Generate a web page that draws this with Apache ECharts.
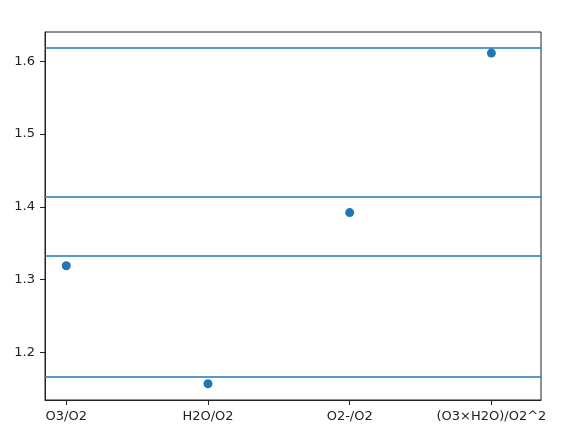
<!DOCTYPE html>
<html>
<head>
<meta charset="utf-8">
<script src="https://cdn.jsdelivr.net/npm/echarts@6/dist/echarts.min.js"></script>
<style>
  html, body { margin: 0; padding: 0; background: #fff; }
  #chart { width: 582px; height: 437px; }
</style>
</head>
<body>
<div id="chart"></div>
<script>
// categories along x, one point each
const categories = ['O3/O2', 'H2O/O2', 'O2-/O2', '(O3×H2O)/O2^2']
const ratios = [1.319, 1.157, 1.392, 1.611]
// horizontal reference lines
const refLines = [1.618, 1.414, 1.333, 1.167]
const yTicks = [1.2, 1.3, 1.4, 1.5, 1.6]

const blue = '#1f77b4'
const ink = '#222'

const chart = echarts.init(document.getElementById('chart'))

const option = {
  animation: false,
  grid: {
    left: 45, right: 41, top: 32, bottom: 37,
    show: true, borderColor: ink, borderWidth: 1
  },
  xAxis: {
    type: 'value',
    min: -0.15,
    max: 3.35,
    splitLine: { show: false },
    axisLine: { show: true, onZero: false, lineStyle: { color: ink, width: 1 } },
    axisTick: {
      show: true, length: 5, inside: false,
      customValues: categories.map((c, i) => i),
      lineStyle: { color: ink }
    },
    axisLabel: {
      customValues: categories.map((c, i) => i),
      formatter: v => categories[Math.round(v)] || '',
      color: ink, fontSize: 13, fontFamily: 'DejaVu Sans', margin: 10
    }
  },
  yAxis: {
    type: 'value',
    min: 1.1347,
    max: 1.640,
    splitLine: { show: false },
    axisLine: { show: true, onZero: false, lineStyle: { color: ink, width: 1 } },
    axisTick: {
      show: true, length: 5, inside: false,
      customValues: yTicks,
      lineStyle: { color: ink }
    },
    axisLabel: {
      customValues: yTicks,
      formatter: v => v.toFixed(1),
      color: ink, fontSize: 13, fontFamily: 'DejaVu Sans', margin: 10
    }
  },
  series: [{
    type: 'scatter',
    symbolSize: 9,
    itemStyle: { color: blue, opacity: 1 },
    data: ratios.map((v, i) => [i, v]),
    markLine: {
      silent: true,
      symbol: 'none',
      precision: 4,
      label: { show: false },
      lineStyle: { color: blue, width: 1.6, type: 'solid' },
      data: refLines.map(v => ({ yAxis: v }))
    }
  }]
}

chart.setOption(option)
</script>
</body>
</html>
